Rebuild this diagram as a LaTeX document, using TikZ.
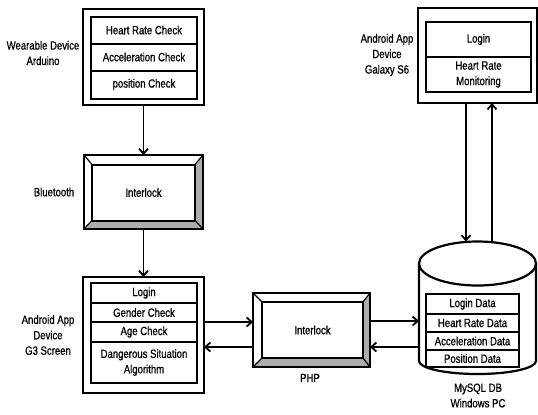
\documentclass[tikz,border=0pt]{standalone}
\usepackage{fontspec}
\setmainfont{Liberation Sans}[FakeStretch=0.8,FakeBold=0.8]
\usetikzlibrary{arrows.meta,positioning,backgrounds,shapes.geometric}
\definecolor{bevelgray}{gray}{0.68}

\begin{document}
\begin{tikzpicture}[x=1bp,y=-1bp,
  every node/.style={font=\fontsize{12}{15.5}\selectfont},
  frame/.style={draw,line width=2.8bp,inner sep=0pt,outer sep=0pt},
  row/.style={draw,line width=2bp,inner sep=0pt,outer sep=0pt,align=center},
  lbl/.style={align=center,inner sep=0pt},
  link/.style={line width=1.8bp,-{Straight Barb[length=5bp,width=9bp]}}]
		\useasboundingbox (0,0) rectangle (538,414);
		% wearable device
		\node[frame,minimum width=121bp,minimum height=96bp] (wear) at (143.5,57) {};
		\node[row,minimum width=106bp,minimum height=27bp] (hrchk) at (144,30) {Heart Rate Check};
		\node[row,minimum width=106bp,minimum height=27bp] (accchk) at (144,57) {Acceleration Check};
		\node[row,minimum width=106bp,minimum height=28bp] (poschk) at (144,84.5) {position Check};
		\node[lbl] (wearlbl) at (43,53) {Wearable Device\\Arduino};
		% bluetooth interlock
		\node[frame,minimum width=119bp,minimum height=74bp] (bt) at (143.5,192) {};
		\node[row,minimum width=103bp,minimum height=56bp] (btin) at (143.5,192.5) {Interlock};
		\node[lbl] (btlbl) at (54,192) {Bluetooth};
		% android G3
		\node[frame,minimum width=121bp,minimum height=116bp] (g3) at (143.5,335) {};
		\node[row,minimum width=106bp,minimum height=20bp] (g3login) at (144,293) {Login};
		\node[row,minimum width=106bp,minimum height=19bp] (gender) at (144,312.5) {Gender Check};
		\node[row,minimum width=106bp,minimum height=20bp] (age) at (144,332) {Age Check};
		\node[row,minimum width=106bp,minimum height=41bp] (algo) at (144,362.5) {Dangerous Situation\\Algorithm};
		\node[lbl] (g3lbl) at (48,335) {Android App\\Device\\G3 Screen};
		% php interlock
		\node[frame,minimum width=117bp,minimum height=74bp] (php) at (311.5,330) {};
		\node[row,minimum width=101bp,minimum height=56bp] (phpin) at (312.5,330) {Interlock};
		\node[lbl] (phplbl) at (310,378) {PHP};
		% galaxy S6
		\node[frame,minimum width=119bp,minimum height=95bp] (s6) at (477.5,55.5) {};
		\node[row,minimum width=105bp,minimum height=35bp] (s6login) at (478.5,39.5) {Login};
		\node[row,minimum width=105bp,minimum height=35bp] (s6hr) at (478.5,74.5) {Heart Rate\\Monitoring};
		\node[lbl] (s6lbl) at (387,55) {Android App\\Device\\Galaxy S6};
		% mysql db
		\draw[line width=2.2bp,fill=white] (419,263.5) -- (419,361)
			arc[start angle=180,end angle=0,x radius=58.5,y radius=13] -- (536,263.5);
		\node[draw,ellipse,line width=2.2bp,fill=white,minimum width=117bp,minimum height=44bp,outer sep=0pt] (dbtop) at (477.5,263.5) {};
		\node[row,minimum width=93bp,minimum height=20bp] (logindata) at (472.5,304) {Login Data};
		\node[row,minimum width=93bp,minimum height=18bp] (hrdata) at (472.5,323) {Heart Rate Data};
		\node[row,minimum width=93bp,minimum height=18bp] (accdata) at (472.5,341) {Acceleration Data};
		\node[row,minimum width=93bp,minimum height=17bp] (posdata) at (472.5,358.5) {Position Data};
		\node[lbl] (dblbl) at (478,395.5) {MySQL DB\\Windows PC};
		% bevels
		\begin{scope}[on background layer]
			\fill[bevelgray] (bt.north east) -- (bt.south east) -- (bt.south west) -- (btin.south west) -- (btin.south east) -- (btin.north east) -- cycle;
			\fill[bevelgray] (php.north east) -- (php.south east) -- (php.south west) -- (phpin.south west) -- (phpin.south east) -- (phpin.north east) -- cycle;
			\draw[line width=1.2bp] (bt.north west) -- (btin.north west) (bt.north east) -- (btin.north east)
				(bt.south west) -- (btin.south west) (bt.south east) -- (btin.south east);
			\draw[line width=1.2bp] (php.north west) -- (phpin.north west) (php.north east) -- (phpin.north east)
				(php.south west) -- (phpin.south west) (php.south east) -- (phpin.south east);
		\end{scope}
		% connectors
		\draw[link] (wear) -- (bt);
		\draw[link] (bt) -- (g3);
		\draw[link] (g3.east |- 0,322) -- (php.west |- 0,322);
		\draw[link] (php.west |- 0,347) -- (g3.east |- 0,347);
		\draw[link] (php.east |- 0,321) -- (dbtop.west |- 0,321);
		\draw[link] (dbtop.west |- 0,347) -- (php.east |- 0,347);
		\draw[link] (s6.south -| 466,0) -- (dbtop.north -| 466,0);
		\draw[link] (dbtop.north -| 492,0) -- (s6.south -| 492,0);
\end{tikzpicture}
\end{document}
